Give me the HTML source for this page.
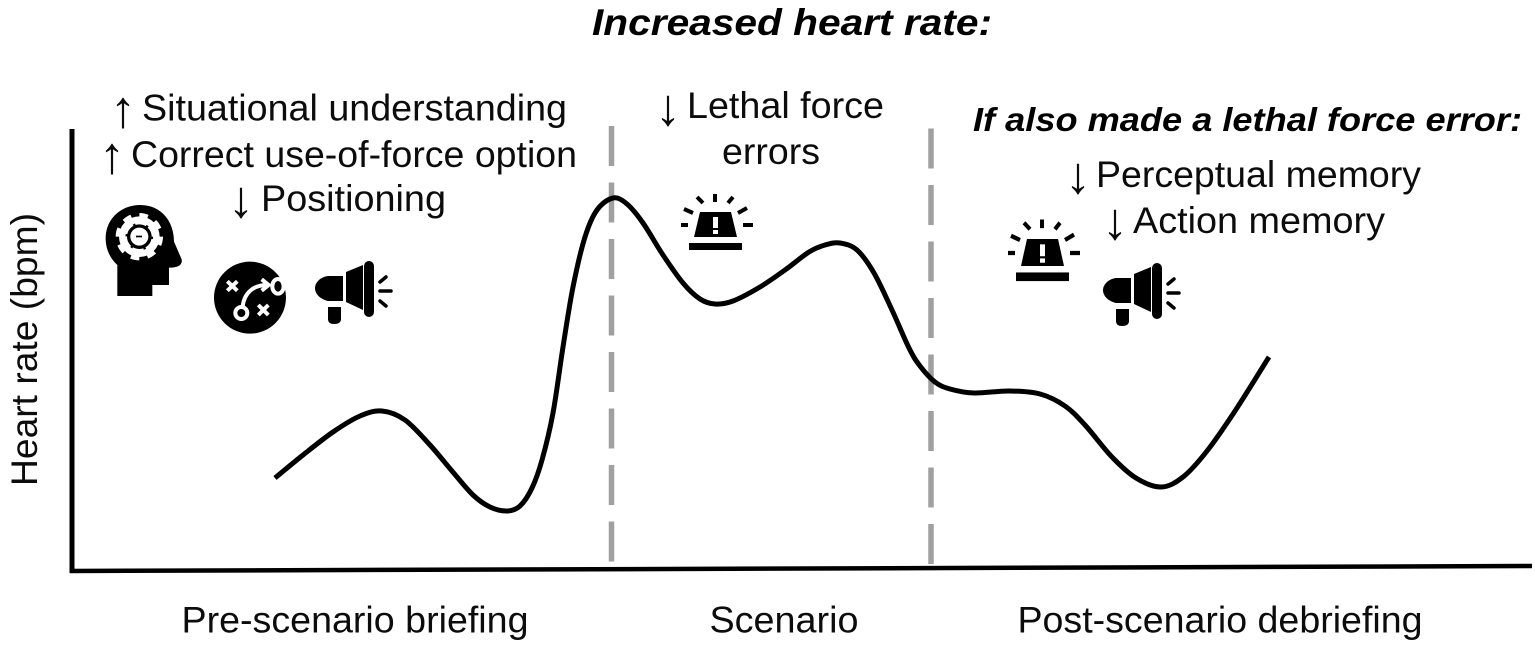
<!DOCTYPE html>
<html lang="en">
<head>
<meta charset="utf-8">
<title>Increased heart rate chart</title>
<style>
html,body{margin:0;padding:0;background:#fff;width:1535px;height:646px;overflow:hidden}
svg{display:block}
text{font-family:"Liberation Sans",Arial,sans-serif;fill:#0c0c0c;font-size:37.5px}
.bi{font-weight:bold;font-style:italic;fill:#000}
.arrow{font-size:52px;text-anchor:middle}
</style>
</head>
<body>
<svg id="chart" xmlns="http://www.w3.org/2000/svg" width="1535" height="646" viewBox="0 0 1535 646">
  <rect width="1535" height="646" fill="#fff"/>

  <text class="bi" x="592" y="35" textLength="400" lengthAdjust="spacingAndGlyphs">Increased heart rate:</text>

  <g id="plot"></g>

  <line x1="72" y1="129" x2="72" y2="573" stroke="#000" stroke-width="5"/>
  <line x1="70" y1="571" x2="1532" y2="566" stroke="#000" stroke-width="4.5"/>

  <text transform="translate(37,486) rotate(-90)" textLength="273" lengthAdjust="spacingAndGlyphs">Heart rate (bpm)</text>

  <text x="181.5" y="632.5" textLength="347" lengthAdjust="spacingAndGlyphs">Pre-scenario briefing</text>
  <text x="709.5" y="632.5" textLength="149" lengthAdjust="spacingAndGlyphs">Scenario</text>
  <text x="1017.5" y="632.5" textLength="405" lengthAdjust="spacingAndGlyphs">Post-scenario debriefing</text>

  <text class="arrow" x="123" y="127">↑</text>
  <text x="142" y="120.5" textLength="425" lengthAdjust="spacingAndGlyphs">Situational understanding</text>
  <text class="arrow" x="112" y="173">↑</text>
  <text x="131" y="167" textLength="446" lengthAdjust="spacingAndGlyphs">Correct use-of-force option</text>
  <text class="arrow" x="241" y="217">↓</text>
  <text x="261" y="211" textLength="185" lengthAdjust="spacingAndGlyphs">Positioning</text>

  <text class="arrow" x="668" y="125">↓</text>
  <text x="687" y="118" textLength="197" lengthAdjust="spacingAndGlyphs">Lethal force</text>
  <text x="722" y="164" textLength="98" lengthAdjust="spacingAndGlyphs">errors</text>

  <text class="bi" x="973" y="131" style="font-size:33.5px" textLength="549" lengthAdjust="spacingAndGlyphs">If also made a lethal force error:</text>
  <text class="arrow" x="1078" y="193">↓</text>
  <text x="1096" y="187" textLength="325" lengthAdjust="spacingAndGlyphs">Perceptual memory</text>
  <text class="arrow" x="1115" y="239">↓</text>
  <text x="1133" y="233" textLength="252" lengthAdjust="spacingAndGlyphs">Action memory</text>

  <g transform="translate(90,190) scale(0.3333)">
    <path fill="#000" d="M82 318 L82 225 C55 200 47 170 47 145 C47 85 95 45 150 45 C215 45 252 95 252 155 L275 208 C278 225 265 233 237 233 L237 285 L187 285 L187 318 Z"/>
    <circle cx="148" cy="140" r="61" fill="#fff"/>
    <circle cx="148" cy="140" r="65" fill="none" stroke="#fff" stroke-width="12" stroke-dasharray="26 25"/>
    <circle cx="148" cy="140" r="32" fill="#fff" stroke="#000" stroke-width="10"/>
    <circle cx="148" cy="140" r="38" fill="none" stroke="#000" stroke-width="7" stroke-dasharray="7 32.8"/>
    <rect x="138" y="137" width="18" height="5" fill="#000"/>
  </g>

  <g transform="translate(90,190) scale(0.3333)">
    <circle cx="480" cy="323" r="108" fill="#000"/>
    <g stroke="#fff" stroke-width="12" fill="none">
      <path d="M412 274 L442 302 M442 274 L412 302"/>
      <path d="M505 345 L535 375 M535 345 L505 375"/>
      <circle cx="454" cy="369" r="18"/>
      <path d="M458 350 C462 310 490 285 530 285"/>
      <path d="M515 268 L536 285 L515 302"/>
      <ellipse cx="564" cy="289" rx="17" ry="22"/>
    </g>
  </g>

  <g>
    <path fill="#000" d="M343 276 L328 276 C320 277 315 283 315 288 C315 294 320 299 328 301 L343 301 Z"/>
    <path fill="#000" d="M346 272 L363 265 L363 310 L346 302 Z"/>
    <rect x="364" y="261" width="10" height="56" rx="5" fill="#000"/>
    <path fill="#000" d="M328 307 L341 307 L341 319 Q341 324 334 324 Q328 324 328 319 Z"/>
    <path stroke="#000" stroke-width="3.5" stroke-linecap="round" fill="none" d="M380 291 H391 M380 282 L386 277 M380 301 L386 306"/>
  </g>

  <g transform="translate(788,2)">
    <path fill="#000" d="M343 276 L328 276 C320 277 315 283 315 288 C315 294 320 299 328 301 L343 301 Z"/>
    <path fill="#000" d="M346 272 L363 265 L363 310 L346 302 Z"/>
    <rect x="364" y="261" width="10" height="56" rx="5" fill="#000"/>
    <path fill="#000" d="M328 307 L341 307 L341 319 Q341 324 334 324 Q328 324 328 319 Z"/>
    <path stroke="#000" stroke-width="3.5" stroke-linecap="round" fill="none" d="M380 291 H391 M380 282 L386 277 M380 301 L386 306"/>
  </g>

  <g>
    <path fill="#000" d="M700 212 L731 212 L737 237 L694 237 Z"/>
    <rect x="713" y="217" width="5" height="11" fill="#fff"/>
    <rect x="713" y="230" width="5" height="4" fill="#fff"/>
    <rect x="689" y="243" width="53" height="7" fill="#000"/>
    <path stroke="#000" stroke-width="4" fill="none" d="M681 225 H688 M743 225 H753 M684 209 L693 213 M738 213 L747 208 M697 197 L703 203 M728 203 L733 197 M715 194 V202"/>
  </g>

  <g transform="translate(327,28) translate(715,225) scale(1,1.08) translate(-715,-225)">
    <path fill="#000" d="M700 212 L731 212 L737 237 L694 237 Z"/>
    <rect x="713" y="217" width="5" height="11" fill="#fff"/>
    <rect x="713" y="230" width="5" height="4" fill="#fff"/>
    <rect x="689" y="243" width="53" height="8" fill="#000"/>
    <path stroke="#000" stroke-width="4" fill="none" d="M681 225 H688 M743 225 H753 M684 209 L693 213 M738 213 L747 208 M697 197 L703 203 M728 203 L733 197 M715 194 V202"/>
  </g>
</svg>

<script>
// Chart data: time in axis units from the y-axis, heart rate in axis units above the x-axis.
const timeValues = [203,231,261,288,310,333,358,380,401,418,435,448,460,470,481,491,501,513,525,541,555,571,591,611,628,643,661,688,713,737,753,768,785,802,820,837,848,863,878,902,937,968,993,1013,1040,1064,1089,1111,1135,1163,1197];
const heartRateValues = [93,116,139,155,160,151,126,100,76,64,60,65,83,111,158,224,284,334,361,373,367,348,316,288,272,267,270,284,301,319,326,328,321,298,261,223,205,189,182,178,180,177,165,146,114,93,84,94,120,160,214];
const phaseBoundaries = [539.5,859];

const axisOriginX = 72;
const axisOriginY = 571;
function xScale(t){ return axisOriginX + t; }
function yScale(v){ return axisOriginY - v; }

const NS = 'http://www.w3.org/2000/svg';
const plot = document.getElementById('plot');

phaseBoundaries.forEach(function(b, i){
  const line = document.createElementNS(NS,'line');
  
  
  line.setAttribute('x1', xScale(b));
  line.setAttribute('x2', xScale(b));
  line.setAttribute('y1', yScale(445 - i * 2.5));
  line.setAttribute('y2', yScale(9.5 - i * 2.5));
  line.setAttribute('stroke', '#a0a0a0');
  line.setAttribute('stroke-width', '5.5');
  line.setAttribute('stroke-dasharray', '40 16.5');
  plot.appendChild(line);
});

function smoothPath(xs, ys){
  let d = 'M' + xs[0] + ' ' + ys[0];
  for (let i = 0; i < xs.length - 1; i++){
    const p0 = Math.max(i - 1, 0), p3 = Math.min(i + 2, xs.length - 1);
    const c1x = xs[i] + (xs[i+1] - xs[p0]) / 6;
    const c1y = ys[i] + (ys[i+1] - ys[p0]) / 6;
    const c2x = xs[i+1] - (xs[p3] - xs[i]) / 6;
    const c2y = ys[i+1] - (ys[p3] - ys[i]) / 6;
    d += ' C' + c1x + ' ' + c1y + ' ' + c2x + ' ' + c2y + ' ' + xs[i+1] + ' ' + ys[i+1];
  }
  return d;
}

const curve = document.createElementNS(NS,'path');


curve.setAttribute('d', smoothPath(timeValues.map(xScale), heartRateValues.map(yScale)));
curve.setAttribute('fill', 'none');
curve.setAttribute('stroke', '#000');
curve.setAttribute('stroke-width', '5');
plot.appendChild(curve);
</script>
</body>
</html>
